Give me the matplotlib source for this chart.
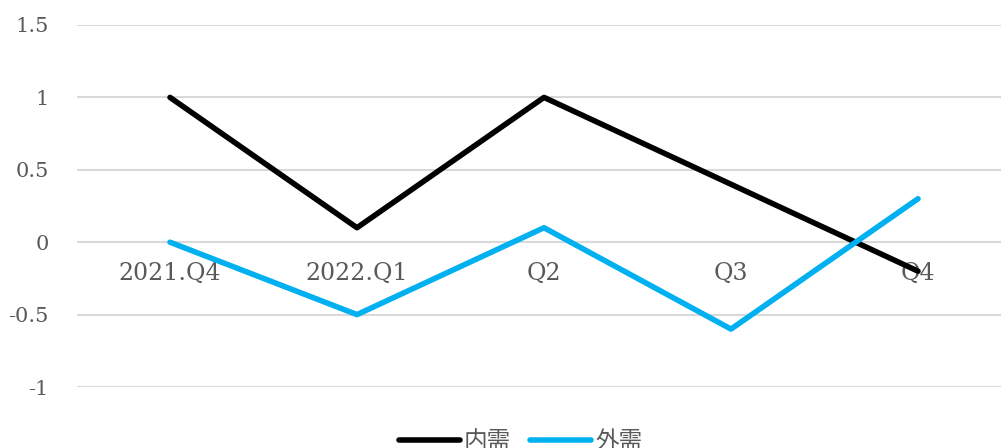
import matplotlib.pyplot as plt

# data
categories = ["2021.Q4", "2022.Q1", "Q2", "Q3", "Q4"]
neixu = [1.0, 0.1, 1.0, 0.4, -0.2]
waixu = [0.0, -0.5, 0.1, -0.6, 0.3]
yticks = [-1, -0.5, 0, 0.5, 1, 1.5]
ytick_labels = ["-1", "-0.5", "0", "0.5", "1", "1.5"]

plt.rcParams['font.family'] = ['DejaVu Serif']

fig = plt.figure(figsize=(10.01, 4.48), dpi=100)
# axes runs a bit past the right edge, like the original
ax = fig.add_axes([76.5 / 1001, 61 / 448, 935 / 1001, 362 / 448])

x = range(len(categories))
ax.plot(x, neixu, color="black", lw=4, label="内需", solid_capstyle="round")
ax.plot(x, waixu, color="#00B0F0", lw=4, label="外需", solid_capstyle="round")

ax.set_xlim(-0.5, 4.5)
ax.set_ylim(-1, 1.5)
ax.set_yticks(yticks)
ax.set_yticklabels(ytick_labels)
ax.set_xticks(list(x))
ax.set_xticklabels(categories)

ax.grid(axis="y", color="#D9D9D9", lw=1.5)
ax.set_axisbelow(True)
for s in ax.spines.values():
    s.set_visible(False)
ax.spines["bottom"].set_position(("data", 0))

ax.tick_params(axis="y", length=0, pad=20, labelsize=15, labelcolor="#595959")
ax.tick_params(axis="x", length=0, pad=14, labelsize=17, labelcolor="#595959")

fig.legend(loc="center", bbox_to_anchor=(0.52, 0.015), ncol=2, frameon=False,
           prop={"family": ["Noto Sans CJK JP"], "size": 17},
           labelcolor="#595959", handlelength=2.6, handletextpad=0.15,
           columnspacing=0.8)

fig.savefig("out.png", dpi=100)
